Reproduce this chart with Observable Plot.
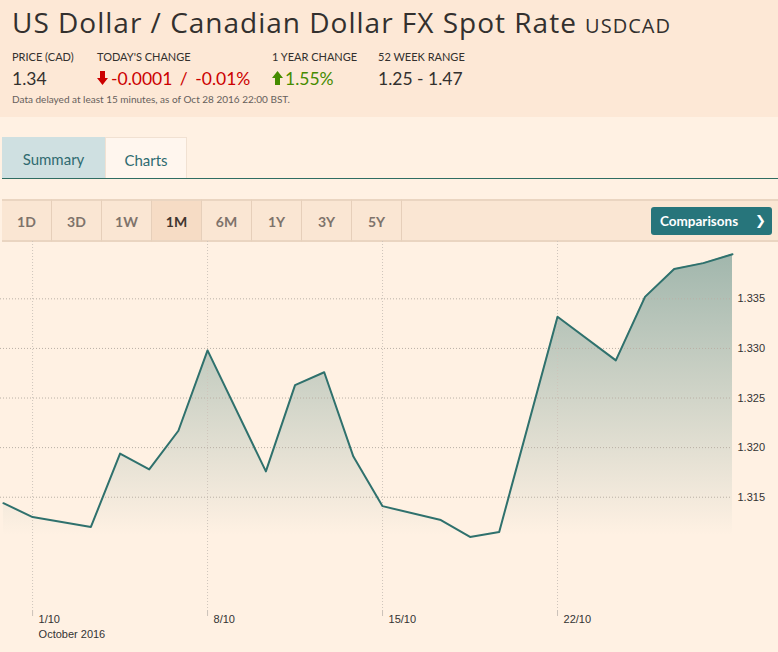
<!DOCTYPE html>
<html><head><meta charset="utf-8">
<script src="https://cdn.jsdelivr.net/npm/d3@7"></script>
<script src="https://cdn.jsdelivr.net/npm/@observablehq/plot@0.6"></script>
<style>
html,body{margin:0;padding:0;}
body{width:778px;height:652px;overflow:hidden;position:relative;background:#fff1e3;font-family:Lato,"Open Sans",sans-serif;color:#33302e;}
.abs{position:absolute;white-space:nowrap;}
#header{left:0;top:0;width:778px;height:117px;background:#fde8d6;}
#title{left:12px;top:5px;font-family:"Open Sans",Lato,sans-serif;font-size:28px;line-height:34px;letter-spacing:1px;color:#33302e;}
#title span{font-size:20px;margin-left:2px;letter-spacing:1px;}
.lbl{top:51px;font-size:11px;line-height:12px;color:#33302e;}
.val{top:69px;font-size:17.5px;line-height:20px;color:#33302e;}
.down{color:#cc0000;word-spacing:3px;}
.up{color:#458b00;}
#delay{left:12px;top:94px;font-size:10px;line-height:10px;color:#66605c;}
#tabSummary{left:2px;top:137px;width:103px;height:41px;background:#cfe0e1;color:#2f6b70;font-size:15px;line-height:45px;text-align:center;}
#tabCharts{left:105px;top:137px;width:80px;height:40px;background:#fff6ee;border:1px solid #f1e1d2;border-bottom:none;color:#2f6b70;font-size:15px;line-height:45px;text-align:center;}
#tabLine{left:2px;top:178px;width:776px;height:1px;background:#2f6d62;}
#btnRow{left:2px;top:199px;width:776px;height:39px;background:#fae6d3;border-top:2px solid #ead5c1;border-bottom:2px solid #ead5c1;}
.rb{top:199px;width:49px;height:39px;border-right:1px solid #e6cfba;border-top:2px solid #ead5c1;border-bottom:2px solid #ead5c1;font-size:14px;font-weight:bold;line-height:41px;text-align:center;color:#7e736b;}
.rb.sel{background:#f6dcc5;color:#40352f;}
#comp{left:651px;top:207px;width:121px;height:28px;background:#27757b;border-radius:3px;color:#fff;font-weight:bold;font-size:13.5px;line-height:28px;}
#comp .t{position:absolute;left:9px;}
#comp .c{position:absolute;left:104px;font-family:"DejaVu Sans",sans-serif;font-size:13px;}
#chart{left:0;top:241px;}
</style>
</head><body>
<div id="header" class="abs"></div>
<div id="title" class="abs">US Dollar / Canadian Dollar FX Spot Rate<span> USDCAD</span></div>
<div class="abs lbl" style="left:12px">PRICE (CAD)</div>
<div class="abs lbl" style="left:97px">TODAY'S CHANGE</div>
<div class="abs lbl" style="left:272px">1 YEAR CHANGE</div>
<div class="abs lbl" style="left:378px">52 WEEK RANGE</div>
<div class="abs val" style="left:12px">1.34</div>
<svg class="abs" style="left:97px;top:71px" width="11" height="14"><polygon points="3,0 8,0 8,7 11,7 5.5,14 0,7 3,7" fill="#cc0000"/></svg>
<div class="abs val down" style="left:111px">-0.0001 / -0.01%</div>
<svg class="abs" style="left:272px;top:71px" width="11" height="14"><polygon points="3,14 8,14 8,7 11,7 5.5,0 0,7 3,7" fill="#458b00"/></svg>
<div class="abs val up" style="left:285px">1.55%</div>
<div class="abs val" style="left:378px">1.25 - 1.47</div>
<div id="delay" class="abs">Data delayed at least 15 minutes, as of Oct 28 2016 22:00 BST.</div>
<div id="tabSummary" class="abs">Summary</div>
<div id="tabCharts" class="abs">Charts</div>
<div id="tabLine" class="abs"></div>
<div id="btnRow" class="abs"></div>
<div id="ranges"></div>
<div id="comp" class="abs"><span class="t">Comparisons</span><span class="c">❯</span></div>
<div id="chart" class="abs"></div>
<script>
// ---- data ----
const ranges = ["1D","3D","1W","1M","6M","1Y","3Y","5Y"];
const selectedRange = "1M";
const slots = [-1,0,2,3,4,5,6,8,9,10,11,12,14,15,16,18,20,21,22,23,24];
const rates = [1.3144,1.3130,1.3120,1.3194,1.3178,1.3217,1.3298,1.3176,1.3263,1.3276,1.3191,1.3141,1.3127,1.3110,1.3115,1.3332,1.3288,1.3352,1.3380,1.3386,1.3395];
const xTickSlots = [0,6,12,18];
const xTickLabels = ["1/10","8/10","15/10","22/10"];
const monthLabels = ["October 2016"];
const yTicks = [1.315,1.320,1.325,1.330,1.335];
const yDomain = [1.30358, 1.34078];
const xDomain = [-1.1, 24];

// range buttons
const rc = document.getElementById("ranges");
ranges.forEach((r, i) => {
  const d = document.createElement("div");
  d.className = "abs rb" + (r === selectedRange ? " sel" : "");
  d.style.left = (2 + i * 50) + "px";
  d.textContent = r;
  rc.appendChild(d);
});

const data = slots.map((s, i) => ({slot: s, rate: rates[i]}));

const plot = Plot.plot({
  width: 778,
  height: 411,
  marginLeft: 0,
  marginRight: 46,
  marginTop: 0,
  marginBottom: 42,
  style: {background: "transparent", fontFamily: "'Liberation Sans', Arial, sans-serif", fontSize: "11px", color: "#333"},
  x: {domain: xDomain, ticks: xTickSlots, tickSize: 6, tickFormat: () => "", label: null},
  y: {domain: yDomain, axis: "right", ticks: yTicks, tickFormat: d3.format(".3f"), tickSize: 0, tickPadding: 5, label: null},
  marks: [
    Plot.areaY(data, {x: "slot", y1: yDomain[0], y2: "rate", fill: "url(#fxFill)"}),
    Plot.ruleY(yTicks, {stroke: "#b9b0a6", strokeDasharray: "1,2"}),
    Plot.ruleX(xTickSlots, {stroke: "#cfc5bb", strokeDasharray: "1,2"}),
    Plot.line(data, {x: "slot", y: "rate", stroke: "#2f716d", strokeWidth: 2}),
    Plot.text(xTickSlots, {x: d => d, text: (d, i) => xTickLabels[i], frameAnchor: "bottom", textAnchor: "start", dx: 6, dy: 12, fill: "#333", fontSize: 11}),
    Plot.text(monthLabels, {x: xTickSlots[0], text: d => d, frameAnchor: "bottom", textAnchor: "start", dx: 6, dy: 27, fill: "#333", fontSize: 11})
  ]
});

const sel = d3.select(plot);
const grad = sel.insert("defs", ":first-child").append("linearGradient")
  .attr("id", "fxFill").attr("x1", 0).attr("y1", 0).attr("x2", 0).attr("y2", 1);
grad.append("stop").attr("offset", 0).attr("stop-color", "#2e6f6a").attr("stop-opacity", 0.45);
grad.append("stop").attr("offset", 0.79).attr("stop-color", "#2e6f6a").attr("stop-opacity", 0);
sel.selectAll('g[aria-label^="x-axis"] line, g[aria-label^="x-axis"] path').attr("stroke", "#cbc2b9");

document.getElementById("chart").appendChild(plot);
</script>
</body></html>
